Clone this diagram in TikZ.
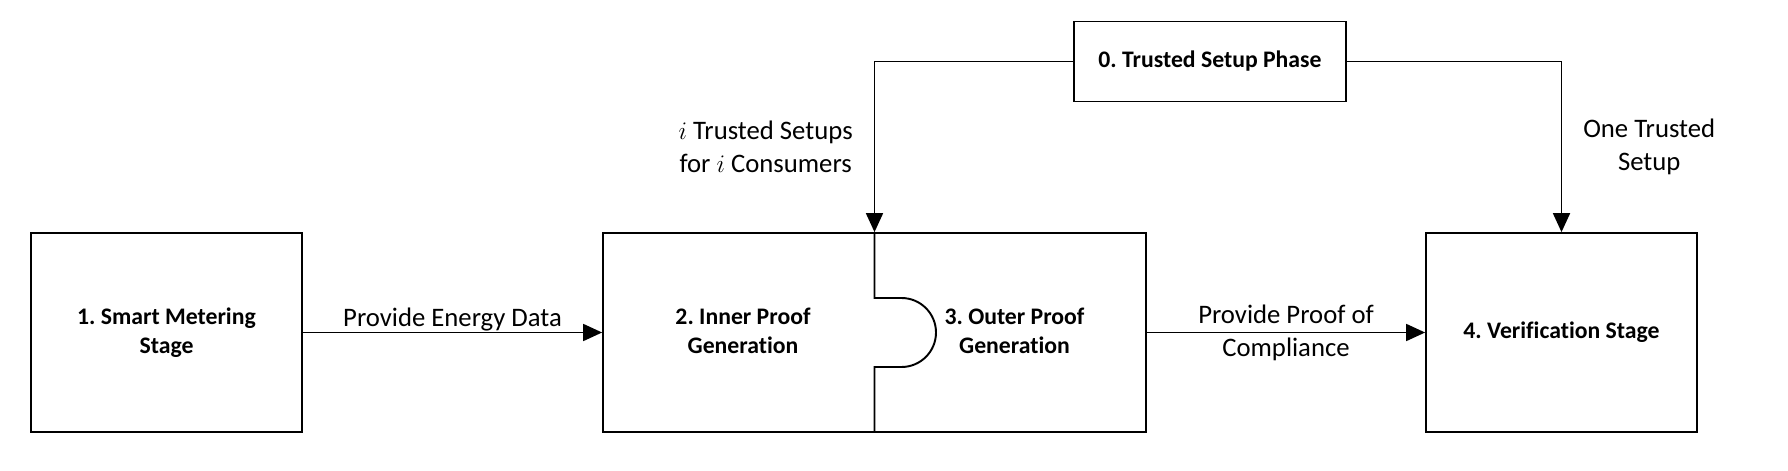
\documentclass[tikz,border=0pt]{standalone}
\usepackage{fontspec}
\setmainfont{Carlito}[Ligatures=CommonOff]
\usepackage{tikz}
\usetikzlibrary{arrows.meta}
\usetikzlibrary{positioning}
\frenchspacing

\begin{document}
\begin{tikzpicture}[
    stage/.style={draw, line width=1pt, minimum width=5.42cm, minimum height=3.98cm, inner sep=0pt, align=center, font=\bfseries\fontsize{13.5}{16.2}\selectfont},
    stagetext/.style={align=center, inner sep=0pt, font=\bfseries\fontsize{13.5}{16.2}\selectfont},
    lbl/.style={align=center, inner sep=0.5pt, font=\fontsize{15.2}{18.8}\selectfont},
    arr/.style={line width=1pt, -{Triangle[length=0.38cm, width=0.34cm]}}]
    \useasboundingbox (0,0) rectangle (35.76,9.4);
    \node[stage] (sm) at (3.33,2.75) {1. Smart Metering\\Stage};
    \node[stage, minimum width=10.86cm] (pg) at (17.49,2.75) {};
    \node[stage] (vs) at (31.23,2.75) {4. Verification Stage};
    \node[stage, minimum width=5.44cm, minimum height=1.6cm] (ts) at (24.2,8.17) {0. Trusted Setup Phase};
    \node[stagetext] (inner) at (14.86,2.78) {2. Inner Proof\\Generation};
    \node[stagetext] (outer) at (20.29,2.78) {3. Outer Proof\\Generation};
    \draw[line width=1.1pt] (pg.north) -- (17.49,3.44) -- (18.03,3.44) arc[start angle=90, end angle=-90, radius=0.69] -- (17.49,2.06) -- (pg.south);
    \draw[arr] (sm.east) -- node[lbl, above] {Provide Energy Data} (pg.west);
    \draw[arr] (pg.east) -- node[lbl] {Provide Proof of\\Compliance} (vs.west);
    \draw[arr] (ts.west) -| node[lbl, pos=0.75, left=0.4cm] {$i$ Trusted Setups\\for $i$ Consumers} (pg.north);
    \draw[arr] (ts.east) -| node[lbl, pos=0.75, right=0.4cm] {One Trusted\\Setup} (vs.north);
\end{tikzpicture}
\end{document}
